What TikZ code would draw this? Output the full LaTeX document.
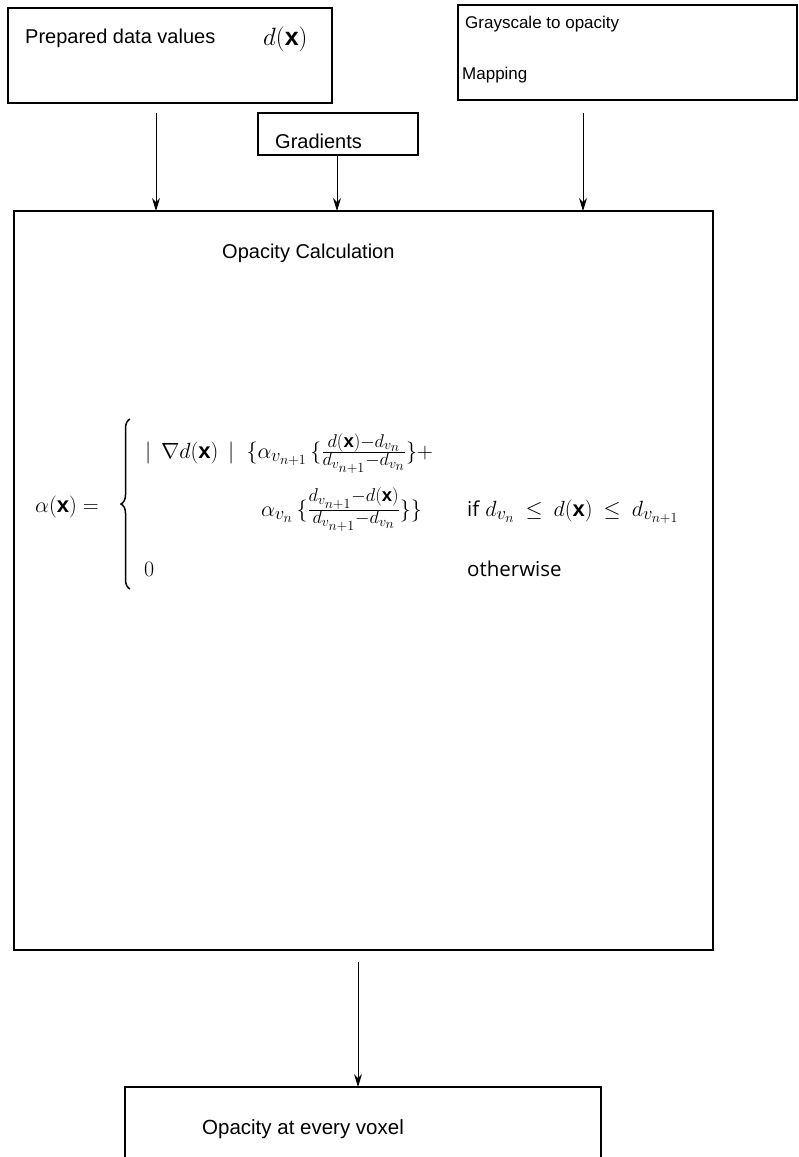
\RequirePackage{fix-cm}
\documentclass[tikz,border=0pt]{standalone}
\usepackage{fontspec}
\setmainfont{Liberation Sans}
\newfontfamily\condfont{Open Sans}
\DeclareMathSizes{22}{22}{18.5}{14}
\usetikzlibrary{arrows.meta,decorations.pathreplacing}
\begin{document}
\begin{tikzpicture}[x=1pt,y=-1pt,
  frame/.style={draw, line width=1.9pt, inner sep=0pt, outer sep=0pt, anchor=north west},
  lbl/.style={anchor=base west, inner sep=0pt, font=\fontsize{20}{24}\selectfont},
  lblsmall/.style={anchor=base west, inner sep=0pt, font=\fontsize{17}{20}\selectfont},
  mth/.style={anchor=base west, inner sep=0pt, font=\fontsize{22}{26}\selectfont},
  word/.style={anchor=base west, inner sep=0pt, font=\fontsize{20.5}{24}\condfont},
  curly/.style={decorate, decoration={brace, amplitude=9pt, aspect=0.5}, line width=1.5pt},
  arr/.style={line width=0.9pt, -{Stealth[length=13pt,width=8pt]}}]
\useasboundingbox (0,0) rectangle (799,1157);
\clip (0,0) rectangle (799,1157);
% boxes
\node[frame, minimum width=324pt, minimum height=95pt] (prep) at (8,8) {};
\node[frame, minimum width=160pt, minimum height=42pt] (grad) at (258,113) {};
\node[frame, minimum width=339pt, minimum height=95pt] (gray) at (458,5) {};
\node[frame, minimum width=699pt, minimum height=739pt] (main) at (14,211) {};
\node[frame, minimum width=476pt, minimum height=120pt] (out) at (125,1087) {};
% labels
\node[lbl] (preptxt) at (25,43) {Prepared data values};
\node[mth, font=\fontsize{25}{28}\selectfont] (dx) at (263,45) {$d(\mathbf{x})$};
\node[lbl] (gradtxt) at (275,148) {Gradients};
\node[lblsmall] (graytxt) at (465,28) {Grayscale to opacity};
\node[lblsmall] (maptxt) at (462,79) {Mapping};
\node[lbl] (calctxt) at (222,258) {Opacity Calculation};
\node[lbl, font=\fontsize{20.5}{24}\selectfont] (outtxt) at (202,1134) {Opacity at every voxel};
% formula
\node[mth] (lhs) at (35,512) {$\alpha(\mathbf{x}) =$};
\coordinate (bracebot) at (130,589);
\coordinate (bracetop) at (130,419);
\draw[curly] (bracebot) -- (bracetop);
\node[mth] (row1) at (145,458) {$|\mskip8mu\nabla d(\mathbf{x})\mskip8mu|\mskip10mu\{\alpha_{v_{n+1}}\mskip3mu\{\frac{d(\mathbf{x})-d_{v_n}}{d_{v_{n+1}}-d_{v_n}}\}+$};
\node[mth] (row2) at (261,516) {$\alpha_{v_n}\mskip3mu\{\frac{d_{v_{n+1}}-d(\mathbf{x})}{d_{v_{n+1}}-d_{v_n}}\}\}$};
\node[mth] (cond) at (467,516) {{\fontsize{20.5}{24}\condfont if} $d_{v_n}\mskip4mu\le\mskip4mu d(\mathbf{x})\mskip4mu\le\mskip4mu d_{v_{n+1}}$};
\node[mth] (zero) at (144,576) {$0$};
\node[word] (other) at (467,576) {otherwise};
% arrows
\coordinate (xa) at (156,0);
\coordinate (xb) at (337,0);
\coordinate (xc) at (583,0);
\coordinate (xd) at (358,0);
\draw[arr, shorten <=10pt] (prep.south -| xa) -- (main.north -| xa);
\draw[arr] (grad.south -| xb) -- (main.north -| xb);
\draw[arr, shorten <=13pt] (gray.south -| xc) -- (main.north -| xc);
\draw[arr, shorten <=12pt] (main.south -| xd) -- (out.north -| xd);
\end{tikzpicture}
\end{document}
